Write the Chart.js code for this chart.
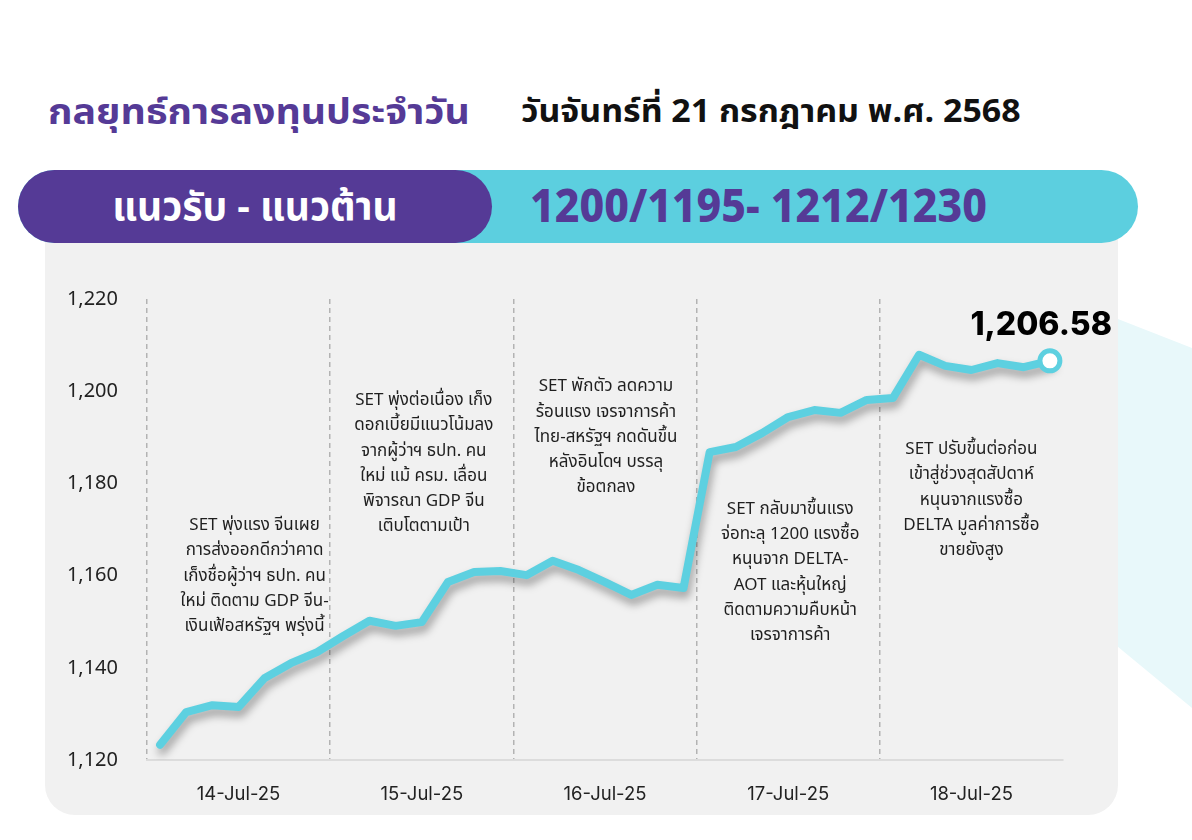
<!DOCTYPE html>
<html lang="th">
<head>
<meta charset="utf-8">
<title>กลยุทธ์การลงทุนประจำวัน</title>
<script src="https://cdn.jsdelivr.net/npm/chart.js@4.4.1/dist/chart.umd.min.js"></script>
<style>
  html, body { margin: 0; padding: 0; background: #fff; }
  body { width: 1192px; height: 840px; position: relative; overflow: hidden; font-family: "Noto Sans Thai", "Noto Sans", sans-serif; }
  .deco { position: absolute; left: 1100px; top: 312px; width: 92px; height: 400px; background: #e8f8fa; clip-path: polygon(0 0, 100% 9%, 100% 99%, 0 80%); }
  .panel { position: absolute; left: 45px; top: 200px; width: 1073px; height: 615px; background: #f1f1f1; border-radius: 30px; }
  .title { position: absolute; left: 48px; top: 86px; font-size: 36px; font-weight: 700; color: #553a96; white-space: nowrap;
    transform: scaleX(1.09); transform-origin: left center; }
  .date { position: absolute; left: 521px; top: 88px; font-size: 32px; font-weight: 700; color: #111; white-space: nowrap;
    transform: scaleX(1.06); transform-origin: left center; }
  .band { position: absolute; left: 18px; top: 170px; width: 1120px; height: 73px; background: #5ccfdf; border-radius: 37px; }
  .band-left { position: absolute; left: 18px; top: 170px; width: 474px; height: 73px; background: #553a96; border-radius: 37px;
    color: #fff; font-size: 39px; font-weight: 700; display: flex; align-items: center; justify-content: center; }
  .band-left span { position: relative; top: 2px; }
  .band-right { position: absolute; left: 530px; top: 172px; height: 73px; line-height: 73px; color: #553a96; font-size: 46px; font-weight: 800;
    white-space: nowrap; transform: scaleX(0.93); transform-origin: left center; }
  #chart { position: absolute; left: 0; top: 0; }
</style>
</head>
<body>
<div class="deco"></div>
<div class="panel"></div>
<div class="title">กลยุทธ์การลงทุนประจำวัน</div>
<div class="date">วันจันทร์ที่ 21 กรกฎาคม พ.ศ. 2568</div>
<div class="band"></div>
<div class="band-left"><span>แนวรับ - แนวต้าน</span></div>
<div class="band-right">1200/1195- 1212/1230</div>
<canvas id="chart" width="1192" height="840"></canvas>

<script>
// SET index, 7 readings per trading day
const days = ['14-Jul-25', '15-Jul-25', '16-Jul-25', '17-Jul-25', '18-Jul-25'];
const pointsPerDay = 7;

const setIndex = [
    1123.3, 1130.4, 1131.9, 1131.5, 1137.8, 1141.0, 1143.4,
    1146.9, 1150.2, 1149.1, 1149.9, 1158.6, 1160.8, 1161.0,
    1160.1, 1163.2, 1161.2, 1158.6, 1155.8, 1158.0, 1157.3,
    1186.8, 1187.9, 1190.9, 1194.4, 1195.9, 1195.3, 1198.1,
    1198.5, 1207.9, 1205.5, 1204.6, 1206.1, 1205.2, 1206.58
];

const yMin = 1120;
const yMax = 1220;
const yStep = 20;
const lastValueLabel = '1,206.58';

const notes = [
    ['SET พุ่งแรง จีนเผย', 'การส่งออกดีกว่าคาด', 'เก็งชื่อผู้ว่าฯ ธปท. คน', 'ใหม่ ติดตาม GDP จีน-', 'เงินเฟ้อสหรัฐฯ พรุ่งนี้'],
    ['SET พุ่งต่อเนื่อง เก็ง', 'ดอกเบี้ยมีแนวโน้มลง', 'จากผู้ว่าฯ ธปท. คน', 'ใหม่ แม้ ครม. เลื่อน', 'พิจารณา GDP จีน', 'เติบโตตามเป้า'],
    ['SET พักตัว ลดความ', 'ร้อนแรง เจรจาการค้า', 'ไทย-สหรัฐฯ กดดันขึ้น', 'หลังอินโดฯ บรรลุ', 'ข้อตกลง'],
    ['SET กลับมาขึ้นแรง', 'จ่อทะลุ 1200 แรงซื้อ', 'หนุนจาก DELTA-', 'AOT และหุ้นใหญ่', 'ติดตามความคืบหน้า', 'เจรจาการค้า'],
    ['SET ปรับขึ้นต่อก่อน', 'เข้าสู่ช่วงสุดสัปดาห์', 'หนุนจากแรงซื้อ', 'DELTA มูลค่าการซื้อ', 'ขายยังสูง']
];

// where each note block starts (index level) and small horizontal nudges
const noteLayout = {
    topValue: [1170.6, 1197.7, 1200.7, 1174.1, 1187.1],
    shiftX: [16, 2, 1, 2, 0],
    lineHeight: 25.2
};

const labels = days.flatMap(d => Array(pointsPerDay).fill(d));
const lastIdx = setIndex.length - 1;
const closePoint = setIndex.map((v, i) => i === lastIdx ? v : null);
const lineColor = '#5dd0e0';
const thaiFont = '"Noto Sans Thai", "Noto Sans", sans-serif';

// drop shadow under the index line only
const lineShadow = {
    id: 'lineShadow',
    beforeDatasetDraw(chart, args) {
        if (args.index !== 0) return;
        const ctx = chart.ctx;
        ctx.save();
        ctx.shadowColor = 'rgba(0, 0, 0, 0.35)';
        ctx.shadowBlur = 8;
        ctx.shadowOffsetX = 2;
        ctx.shadowOffsetY = 6;
    },
    afterDatasetDraw(chart, args) {
        if (args.index !== 0) return;
        chart.ctx.restore();
    }
};

const noteText = {
    id: 'noteText',
    afterDraw(chart) {
        const ctx = chart.ctx;
        const x = chart.scales.x;
        const y = chart.scales.y;

        ctx.save();
        ctx.fillStyle = '#1f1f1f';
        ctx.font = '17px ' + thaiFont;
        ctx.textAlign = 'center';
        ctx.textBaseline = 'middle';
        notes.forEach((lines, d) => {
            const cx = x.getPixelForValue(d * pointsPerDay + 3) + noteLayout.shiftX[d];
            const top = y.getPixelForValue(noteLayout.topValue[d]);
            lines.forEach((line, i) => {
                ctx.fillText(line, cx, top + i * noteLayout.lineHeight);
            });
        });

        // closing value above the last point
        const last = chart.getDatasetMeta(1).data[lastIdx];
        ctx.fillStyle = '#000';
        ctx.font = '800 32px Inter, "DejaVu Sans", sans-serif';
        ctx.textAlign = 'right';
        ctx.fillText(lastValueLabel, last.x + 62, last.y - 35);
        ctx.restore();
    }
};

new Chart(document.getElementById('chart').getContext('2d'), {
    type: 'line',
    data: {
        labels: labels,
        datasets: [{
            data: setIndex,
            order: 1,
            borderColor: lineColor,
            borderWidth: 8,
            borderJoinStyle: 'round',
            borderCapStyle: 'round',
            tension: 0,
            fill: false,
            pointRadius: 0
        }, {
            data: closePoint,
            order: 0,
            showLine: false,
            pointRadius: 10,
            pointBackgroundColor: '#fff',
            pointBorderColor: lineColor,
            pointBorderWidth: 5
        }]
    },
    options: {
        responsive: false,
        animation: false,
        layout: {
            padding: { left: 0, top: 299, right: 129, bottom: 0 }
        },
        plugins: {
            legend: { display: false },
            tooltip: { enabled: false }
        },
        scales: {
            x: {
                offset: true,
                grid: {
                    offset: true,
                    drawTicks: false,
                    lineWidth: 1.5,
                    color: ctx => ctx.index % pointsPerDay === 0 ? '#b3b3b3' : 'rgba(0,0,0,0)'
                },
                border: { display: true, color: '#dcdcdc', width: 2, dash: [5, 4] },
                ticks: {
                    autoSkip: false,
                    maxRotation: 0,
                    padding: 23,
                    color: '#222',
                    font: { size: 18.5, weight: '400', family: 'Inter, "Noto Sans", sans-serif' },
                    callback: (v, i) => i % pointsPerDay === 3 ? labels[i] : ''
                },
                afterFit: scale => { scale.height = 80; }
            },
            y: {
                min: yMin,
                max: yMax,
                grid: { display: false, drawTicks: false },
                border: { display: false },
                ticks: {
                    stepSize: yStep,
                    padding: 29,
                    color: '#222',
                    font: { size: 20, family: '"Noto Sans", sans-serif' },
                    callback: v => v.toLocaleString('en-US')
                },
                afterFit: scale => { scale.width = 147; }
            }
        }
    },
    plugins: [lineShadow, noteText]
});
</script>
</body>
</html>
